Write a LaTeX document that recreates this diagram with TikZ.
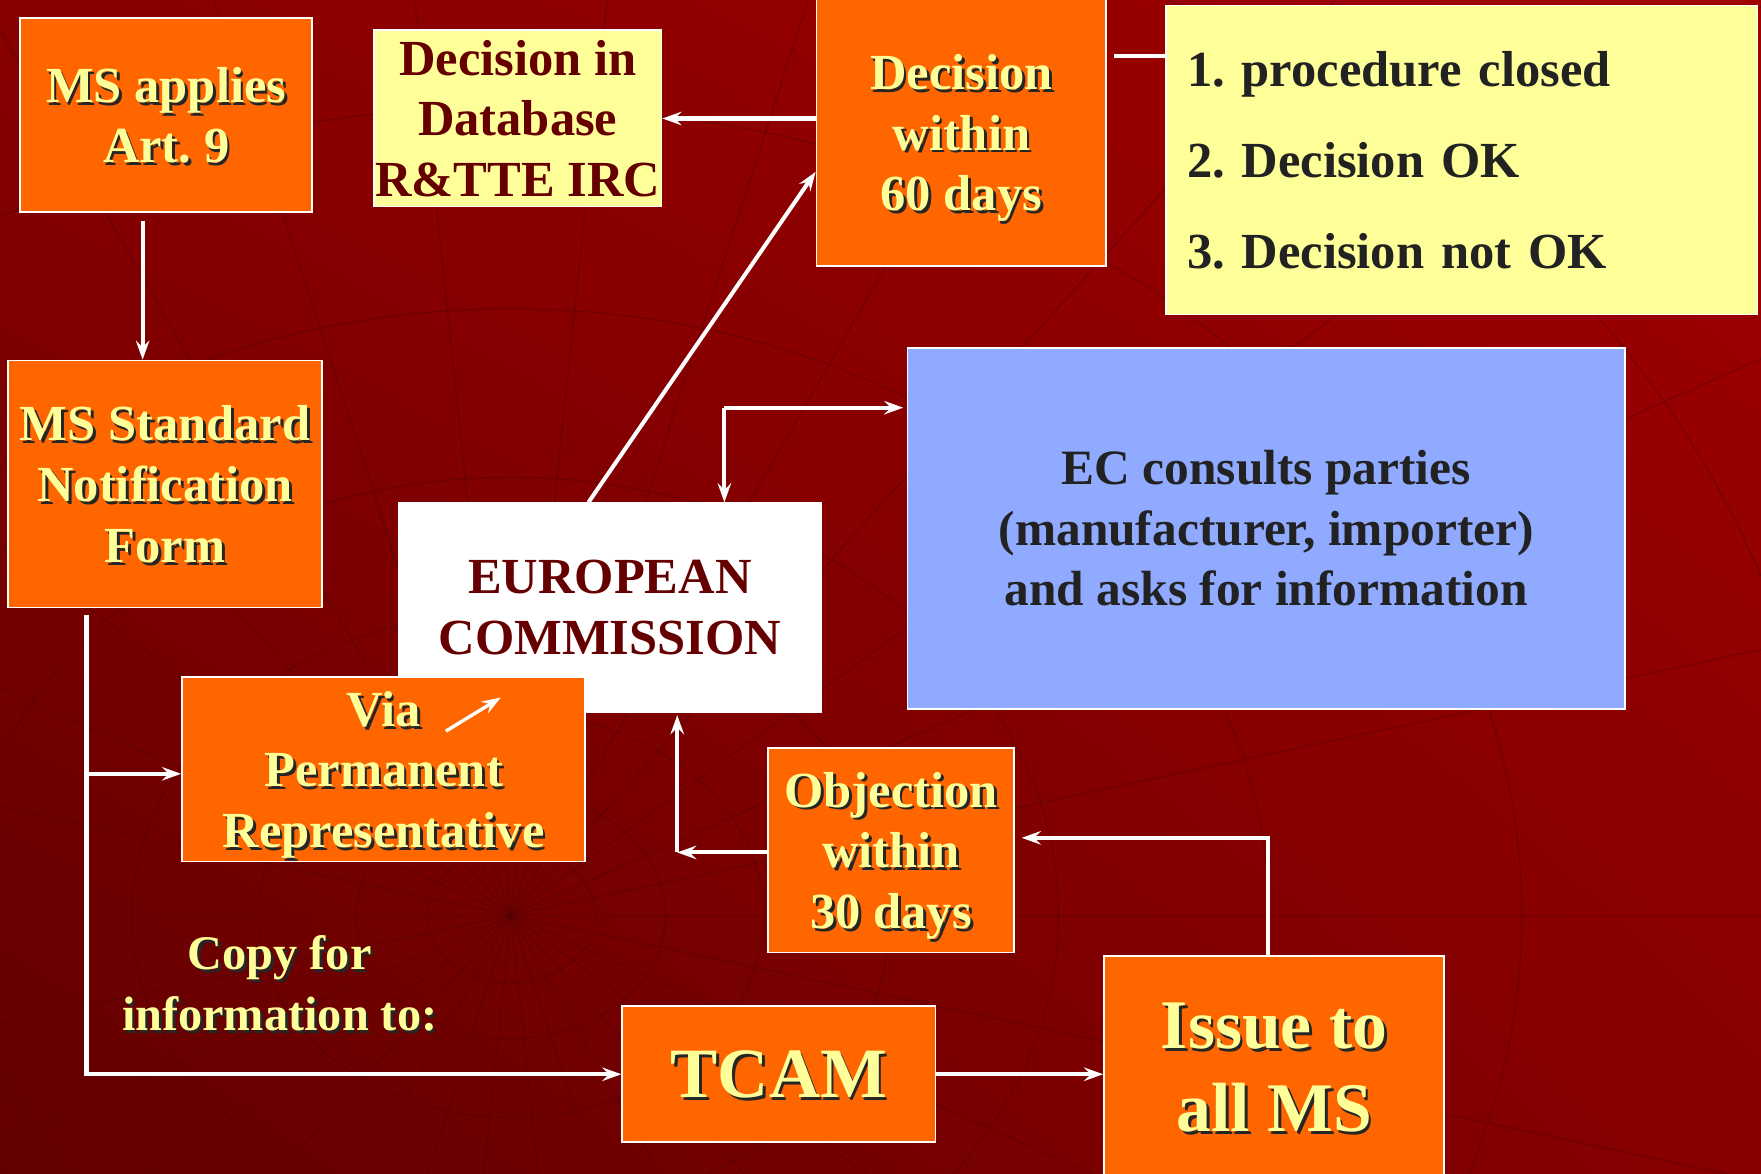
\documentclass[tikz,border=0pt]{standalone}
\usepackage{fontspec}
\setmainfont{Liberation Serif}
\usetikzlibrary{arrows.meta, shadings}
\frenchspacing

\definecolor{bgdark}{HTML}{620000}
\definecolor{bgmid}{HTML}{880000}
\definecolor{bglight}{HTML}{A00000}
\definecolor{gridred}{HTML}{4A0000}
\definecolor{boxorange}{HTML}{FF6600}
\definecolor{paleyellow}{HTML}{FFFF99}
\definecolor{maroon}{HTML}{660000}
\definecolor{paleblue}{HTML}{8FAAFF}
\definecolor{inkgray}{HTML}{222222}

% yellow slide text with its dark drop shadow
\newcommand{\shd}[1]{\leavevmode\rlap{\hspace{2.5pt}\raisebox{-2.5pt}{\color{black!85}#1}}#1}

\tikzset{
  box/.style = {rectangle, draw = white, line width = 1.5pt, inner sep = 0pt,
    align = center, font = \bfseries\fontsize{45}{54}\selectfont},
  orangebox/.style = {box, fill = boxorange, text = paleyellow},
  palebox/.style = {box, fill = paleyellow, text = maroon},
  wire/.style = {draw = white, line width = 3.6pt},
  link/.style = {wire, -{Stealth[length = 17pt, width = 12pt, inset = 6pt]}},
}

\begin{document}
\begin{tikzpicture}[x = 1pt, y = -1pt]

\useasboundingbox (0,0) rectangle (1568,1045);

% background
\shade[upper left = bgmid, upper right = bglight, lower left = bgdark, lower right = bgmid]
  (0,0) rectangle (1568,1045);
\begin{scope}
\clip (0,0) rectangle (1568,1045);
\foreach \a in {0,12,...,348}
  \draw[gridred, opacity = 0.4, line width = 1pt] (455,815) -- ++(\a:1800);
\foreach \r in {60,110,180,270,390,540,720,940}
  \draw[gridred, opacity = 0.4, line width = 1pt] (455,815) ellipse ({1.25*\r} and \r);
\end{scope}

% boxes
\node[orangebox, minimum width = 260pt, minimum height = 173pt, text depth = -3.5pt] (apply) at (148,102.5)
  {\shd{MS applies}\\\shd{Art. 9}};
\node[palebox, minimum width = 256pt, minimum height = 157pt] (db) at (461,105.5)
  {Decision in\\Database\\R\&TTE IRC};
\node[orangebox, minimum width = 258pt, minimum height = 238pt, text depth = 0pt] (dec) at (856,118)
  {\shd{Decision}\\\shd{within}\\\shd{60 days}};
\node[palebox, text = inkgray, align = left, text width = 489pt, inner xsep = 19pt,
  minimum height = 275pt, font = \bfseries\fontsize{45}{81}\selectfont] (list) at (1301.5,142.5)
  {1. procedure closed\\2. Decision OK\\3. Decision not OK};
\node[orangebox, minimum width = 280pt, minimum height = 220pt, text depth = -1.5pt] (form) at (147,431)
  {\shd{MS Standard}\\\shd{Notification}\\\shd{Form}};
\node[box, fill = paleblue, text = inkgray, minimum width = 639pt, minimum height = 321pt,
  font = \bfseries\fontsize{44}{54}\selectfont] (consult) at (1127.5,470.5)
  {EC consults parties\\(manufacturer, importer)\\and asks for information};
\node[box, fill = white, text = maroon, minimum width = 376pt, minimum height = 186pt] (ec) at (543,541)
  {EUROPEAN\\COMMISSION};
\node[orangebox, minimum width = 359pt, minimum height = 164pt, text depth = 0pt] (via) at (341.5,685)
  {\shd{Via}\\\shd{Permanent}\\\shd{Representative}};
\node[orangebox, minimum width = 219pt, minimum height = 182pt, text depth = 0pt] (obj) at (793.5,757)
  {\shd{Objection}\\\shd{within}\\\shd{30 days}};
\node[orangebox, minimum width = 279pt, minimum height = 121pt, text depth = -5.5pt,
  font = \bfseries\fontsize{63}{74}\selectfont] (tcam) at (693.5,956.5) {\shd{TCAM}};
\node[orangebox, minimum width = 303pt, minimum height = 198pt, text depth = -1.5pt,
  font = \bfseries\fontsize{62}{74}\selectfont] (issue) at (1134.5,950) {\shd{Issue to}\\\shd{all MS}};
\node[text = paleyellow, align = center, font = \bfseries\fontsize{43}{54}\selectfont] (copy) at (249,877)
  {\shd{Copy for}\\\shd{information to:}};

% connectors
\coordinate (split) at (645,363);
\coordinate (viac) at (77,689);
\coordinate (copyc) at (77,956.5);
\coordinate (bend) at (1129,746);
\coordinate (turn) at (603,759);
\coordinate (vt1) at (397,651);
\coordinate (vt2) at (446,621);

\draw[link] ([xshift = -21pt, yshift = -7pt]apply.south) -- ([xshift = -21pt]apply.south |- form.north);
\draw[link] (dec.west |- db.east) -- (db.east);
\draw[wire] ([xshift = 6pt]dec.east |- 0,50) -- (list.west |- 0,50);
\draw[link] (ec.north -| 524,0) -- (dec.west |- 0,153);
\draw[link] (split) -- ([xshift = -3pt]consult.west |- split);
\draw[link] (split) -- (split |- ec.north);
\draw[link] ([yshift = -6pt]form.south -| copyc) -- (copyc) -- (tcam.west);
\draw[link] (viac) -- (via.west |- viac);
\draw[link] (tcam.east) -- (tcam.east -| issue.west);
\draw[link] (issue.north -| bend) -- (bend) -- ([xshift = 6pt]bend -| obj.east);
\draw[link] (obj.west |- turn) -- (turn);
\draw[link] (turn) -- ([yshift = -2pt]turn |- ec.south);
\draw[link, line width = 3pt] (vt1) -- (vt2);

\end{tikzpicture}
\end{document}
